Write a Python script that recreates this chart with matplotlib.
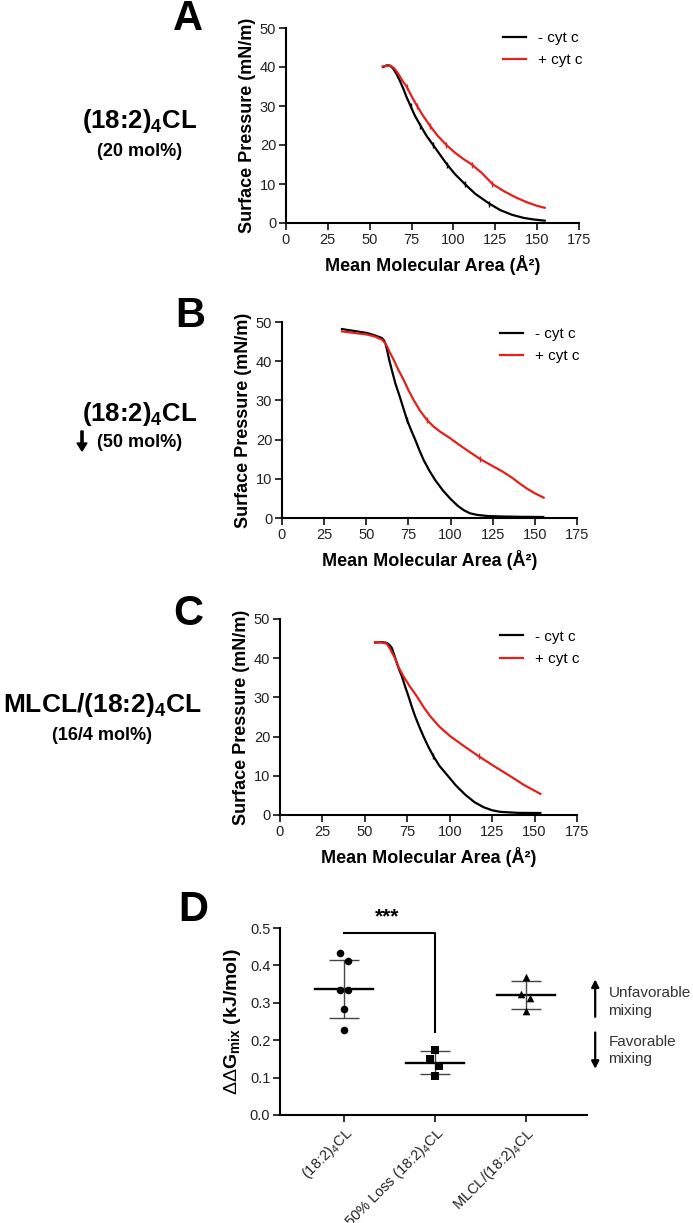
import matplotlib
matplotlib.use('Agg')
import matplotlib.pyplot as plt
import numpy as np

plt.rcParams['font.family'] = ['Liberation Sans', 'DejaVu Sans']
plt.rcParams['mathtext.fontset'] = 'custom'
plt.rcParams['mathtext.rm'] = 'Liberation Sans'
plt.rcParams['mathtext.it'] = 'Liberation Sans:italic'
plt.rcParams['mathtext.bf'] = 'Liberation Sans:bold'

# ---------------- data ----------------
# Panel A: (18:2)4CL 20 mol%
a_minus_x = [58, 60, 62, 64, 66, 68, 70, 72, 74.4, 77, 80.3, 84, 87.9, 92, 96.2, 101, 106.8,
             113, 121.3, 128, 135, 142, 148, 154.5]
a_minus_y = [40.0, 40.4, 40.4, 39.6, 38.2, 36.5, 34.5, 32.3, 30.0, 27.5, 25.0, 22.3, 20.0, 17.5,
             15.0, 12.5, 10.0, 7.5, 5.0, 3.3, 2.1, 1.3, 0.9, 0.6]
a_plus_x = [57.7, 60, 63, 65, 67, 69.5, 72, 75, 78.3, 82, 85.9, 90.5, 95.8, 101, 106, 111, 117,
            123.3, 130, 137, 144, 150, 154.5]
a_plus_y = [40.1, 40.3, 40.2, 39.5, 38.3, 36.5, 35.0, 32.5, 30.0, 27.4, 25.0, 22.4, 20.0, 18.0,
            16.4, 15.0, 12.8, 10.0, 8.2, 6.6, 5.3, 4.4, 3.9]

# Panel B: 50 mol% loss
b_minus_x = [35.6, 43, 50.4, 55, 59.3, 60.5, 61.5, 62.5, 63.5, 65, 67.2, 70.2, 72, 74.2, 76.5,
             79.1, 81.5, 84, 87.5, 91, 95.5, 99.9, 104, 107.8, 111.5, 115.7, 122, 129.5, 142, 155]
b_minus_y = [48.2, 47.7, 47.2, 46.6, 45.9, 45.3, 44.3, 42.5, 40.5, 38.0, 34.4, 30.5, 28.0, 25.0,
             22.5, 19.9, 17.3, 14.8, 12.0, 9.6, 7.0, 4.9, 3.2, 2.0, 1.2, 0.8, 0.5, 0.4, 0.3, 0.25]
b_plus_x = [35.6, 43, 50.4, 55, 59.3, 61, 62.3, 64, 66.2, 69, 72.2, 75, 78.1, 82, 86, 90, 93.9,
            99.9, 105, 109.7, 117.7, 125.6, 131, 136.4, 141, 145.3, 150, 155.2]
b_plus_y = [47.6, 47.2, 46.8, 46.3, 45.5, 44.7, 43.8, 42.2, 40.4, 37.8, 35.2, 32.6, 30.1, 27.3,
            25.0, 23.3, 22.0, 20.3, 18.7, 17.3, 15.0, 13.1, 11.8, 10.3, 8.8, 7.5, 6.3, 5.2]

# Panel C: MLCL/(18:2)4CL 16/4 mol%
c_minus_x = [56, 60, 62.9, 64.5, 65.9, 67.3, 68.8, 70.3, 71.8, 73.7, 75.7, 77.6, 79.6, 82, 84.5,
             87.3, 90.4, 94, 98.3, 103.5, 109.1, 114.5, 119.9, 125, 129.8, 140, 153.4]
c_minus_y = [44.0, 44.1, 43.9, 43.4, 42.6, 40.8, 38.8, 37.0, 35.4, 32.8, 30.3, 27.7, 25.2, 22.6,
             20.1, 17.5, 15.0, 12.5, 10.3, 7.6, 5.2, 3.3, 2.0, 1.2, 0.8, 0.55, 0.5]
c_plus_x = [56, 60, 62.9, 65, 66.5, 67.8, 70, 72.7, 76.5, 80.6, 84.5, 88.5, 94, 100.3, 108, 117,
            126, 135.7, 144, 153.4]
c_plus_y = [44.1, 44.0, 43.7, 42.3, 41.0, 40.0, 37.6, 35.4, 32.8, 30.3, 27.6, 25.2, 22.5, 20.1,
            17.7, 15.0, 12.5, 9.9, 7.6, 5.4]

legend_labels = ['- cyt c', '+ cyt c']

# Panel D: ddG mix (kJ/mol)
d_categories = ['(18:2)$_4$CL', '50% Loss (18:2)$_4$CL', 'MLCL/(18:2)$_4$CL']
d_group1 = [0.433, 0.413, 0.333, 0.333, 0.283, 0.226]
d_group2 = [0.175, 0.151, 0.131, 0.103]
d_group3 = [0.369, 0.324, 0.314, 0.278]

# ---------------- layout helpers ----------------
W, H = 693, 1223
fig = plt.figure(figsize=(W / 100, H / 100), dpi=100)

def px_axes(x0, y0, x1, y1):
    return fig.add_axes([x0 / W, 1 - y1 / H, (x1 - x0) / W, (y1 - y0) / H])

def ftext(x, y, s, **kw):
    fig.text(x / W, 1 - y / H, s, **kw)

RED = '#E3211C'

def style(ax, lw=1.5):
    for s in ['top', 'right']:
        ax.spines[s].set_visible(False)
    for s in ['left', 'bottom']:
        ax.spines[s].set_linewidth(lw)
    ax.tick_params(width=1.3, length=5, labelsize=10.5, pad=2, colors='#222222')


def mark_idx(ys):
    return [i for i, y in enumerate(ys) if 0 < y < 40 and abs(y / 5 - round(y / 5)) < 1e-6]


def isotherm(ax, mx, my, px_, py_, legend_y):
    ax.plot(mx, my, color='black', lw=1.6, label=legend_labels[0],
            marker='|', markersize=4, markeredgewidth=1, markevery=mark_idx(my))
    ax.plot(px_, py_, color=RED, lw=1.6, label=legend_labels[1],
            marker='|', markersize=4, markeredgewidth=1, markevery=mark_idx(py_))
    ax.set_xlim(0, 175)
    ax.set_ylim(0, 50)
    ax.set_xticks(np.arange(0, 176, 25))
    ax.set_yticks(np.arange(0, 51, 10))
    style(ax)
    ax.set_xlabel('Mean Molecular Area (Å²)', fontsize=13, fontweight='bold', labelpad=6)
    ax.set_ylabel('Surface Pressure (mN/m)', fontsize=13, fontweight='bold', labelpad=3)
    leg = ax.legend(loc='upper left', bbox_to_anchor=(0.74, legend_y), frameon=False,
                    fontsize=11, handlelength=1.5, handletextpad=0.8, labelspacing=0.55,
                    borderpad=0, borderaxespad=0)
    for h in leg.legend_handles:
        h.set_marker('')

axA = px_axes(286, 28, 579, 223)
isotherm(axA, a_minus_x, a_minus_y, a_plus_x, a_plus_y, 0.985)
axB = px_axes(282, 322, 577, 518)
isotherm(axB, b_minus_x, b_minus_y, b_plus_x, b_plus_y, 0.975)
axC = px_axes(280, 619, 577, 815)
isotherm(axC, c_minus_x, c_minus_y, c_plus_x, c_plus_y, 0.945)

# panel letters
for lab, (x, y) in zip('ABCD', [(188, 19), (190, 316), (188, 614), (193, 910)]):
    ftext(x, y, lab, fontsize=30, fontweight='bold', ha='center', va='center')

# left-side labels
ftext(140, 121, '(18:2)$_\\mathbf{4}$CL', fontsize=18.5, fontweight='bold', ha='center', va='center')
ftext(140, 152, '(20 mol%)', fontsize=13, fontweight='bold', ha='center', va='center')
ftext(140, 414, '(18:2)$_\\mathbf{4}$CL', fontsize=18.5, fontweight='bold', ha='center', va='center')
ftext(140, 443, '(50 mol%)', fontsize=13, fontweight='bold', ha='center', va='center')
fig.patches.append(matplotlib.patches.FancyArrow(82 / W, 1 - 431 / H, 0, -20 / H,
                   width=2.2 / W, head_width=10 / W, head_length=8 / H,
                   length_includes_head=True, color='black', transform=fig.transFigure))
ftext(102, 705, 'MLCL/(18:2)$_\\mathbf{4}$CL', fontsize=19, fontweight='bold', ha='center', va='center')
ftext(102, 736, '(16/4 mol%)', fontsize=13, fontweight='bold', ha='center', va='center')

# ---------------- Panel D ----------------
axD = px_axes(280, 928, 587, 1115)
groups = [d_group1, d_group2, d_group3]
markers = ['o', 's', '^']
jitter = [[-0.045, 0.05, -0.045, 0.05, 0, 0], [0, -0.05, 0.04, 0], [0, -0.05, 0.04, 0]]
for i, (vals, mk, jt) in enumerate(zip(groups, markers, jitter)):
    v = np.array(vals)
    axD.scatter(i + np.array(jt), v, marker=mk, s=30, color='black', zorder=3, linewidths=0)
    m, sd = v.mean(), v.std(ddof=1)
    axD.plot([i - 0.32, i + 0.32], [m, m], color='black', lw=1.7)
    axD.errorbar([i], [m], yerr=[sd], fmt='none', ecolor='#444444', elinewidth=1.0,
                 capsize=11, capthick=1.0)
axD.set_xlim(-0.70, 2.67)
axD.set_ylim(0, 0.5)
axD.set_yticks(np.arange(0, 0.51, 0.1))
axD.set_yticklabels([f'{t:.1f}' for t in np.arange(0, 0.51, 0.1)])
axD.set_xticks(range(3))
axD.set_xticklabels(d_categories, rotation=45, ha='right', rotation_mode='anchor', fontsize=9.5)
style(axD)
axD.tick_params(axis='y', labelsize=10.5)
axD.set_ylabel('$\\Delta\\Delta$G$_{\\mathbf{mix}}$ (kJ/mol)', fontsize=14, fontweight='bold', labelpad=5)

# significance bracket
axD.plot([0, 1, 1], [0.487, 0.487, 0.221], color='black', lw=1.5, clip_on=False)
axD.text(0.48, 0.505, '***', fontsize=15, fontweight='bold', ha='center', va='bottom')

# right-side annotations
axD.annotate('', xy=(2.76, 0.370), xytext=(2.76, 0.255),
             arrowprops=dict(arrowstyle='-|>', color='black', lw=1.6, mutation_scale=11),
             annotation_clip=False)
axD.annotate('', xy=(2.76, 0.116), xytext=(2.76, 0.228),
             arrowprops=dict(arrowstyle='-|>', color='black', lw=1.6, mutation_scale=11),
             annotation_clip=False)
axD.text(2.905, 0.302, 'Unfavorable\nmixing', fontsize=11, ha='left', va='center',
         color='#333333', clip_on=False, linespacing=1.3)
axD.text(2.905, 0.173, 'Favorable\nmixing', fontsize=11, ha='left', va='center',
         color='#333333', clip_on=False, linespacing=1.3)

fig.savefig('out.png', dpi=100)
